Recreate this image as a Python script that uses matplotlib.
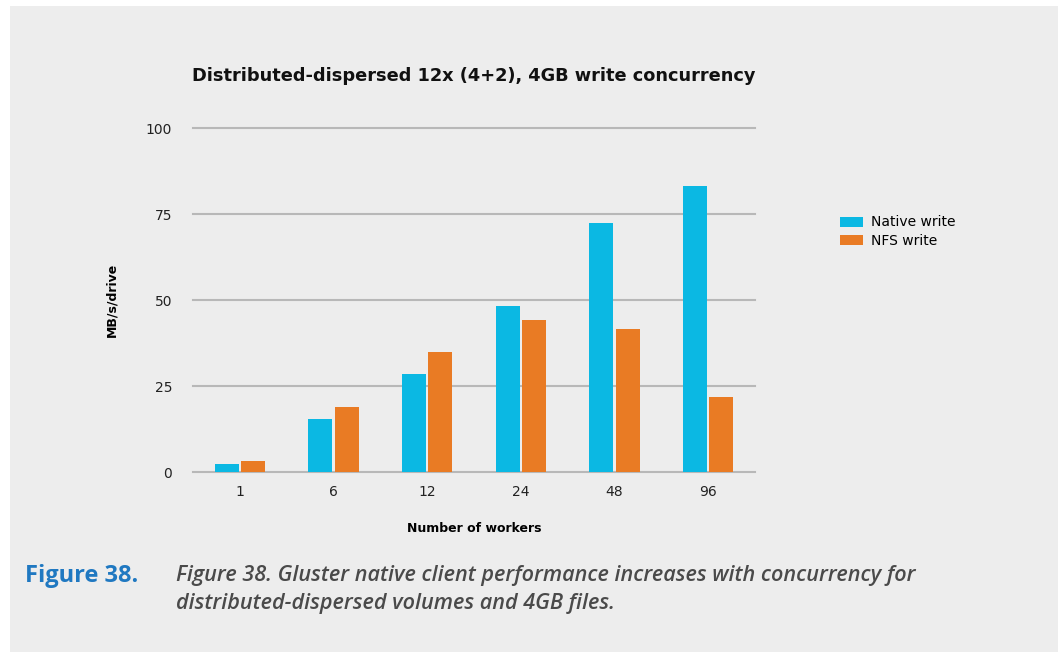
import matplotlib.pyplot as plt
import numpy as np
from matplotlib.patches import Rectangle

# data
workers = ['1', '6', '12', '24', '48', '96']
native_write = [2.2, 15.3, 28.4, 48.2, 72.3, 83.0]
nfs_write = [3.1, 18.8, 35.0, 44.3, 41.7, 21.7]
y_ticks = [0, 25, 50, 75, 100]

BLUE = '#0bb8e3'
ORANGE = '#e97b24'
PANEL = '#ededed'
GRID = '#b8b8b8'

fig = plt.figure(figsize=(10.58, 6.52), dpi=100, facecolor='white')
# gray panel behind everything, white strip on top and left
fig.patches.append(Rectangle((10 / 1058, 0), 1, 1 - 6 / 652, transform=fig.transFigure,
                             facecolor=PANEL, edgecolor='none', zorder=-10))

ax = fig.add_axes([193 / 1058, 1 - 472 / 652, 562 / 1058, 344 / 652])
ax.set_facecolor('none')

x = np.arange(len(workers))
w = 0.256
gap = 0.012
ax.bar(x - w / 2 - gap, native_write, w, color=BLUE, label='Native write', zorder=3)
ax.bar(x + w / 2 + gap, nfs_write, w, color=ORANGE, label='NFS write', zorder=3)

ax.set_xlim(-0.5, len(workers) - 0.5)
ax.set_ylim(0, 100)
ax.set_yticks(y_ticks)
ax.set_xticks(x)
ax.set_xticklabels(workers)
for y in y_ticks:
    ax.axhline(y, color=GRID, lw=1.5, zorder=1, clip_on=False)
for s in ax.spines.values():
    s.set_visible(False)
ax.tick_params(axis='both', length=0, labelsize=10, colors='#222222')
ax.tick_params(axis='y', pad=15)
ax.tick_params(axis='x', pad=9)

ax.set_ylabel('MB/s/drive', fontsize=9, fontweight='bold')
ax.set_xlabel('Number of workers', fontsize=9, fontweight='bold', labelpad=17)
ax.yaxis.set_label_coords(-(193 - 118) / 562, 0.5)

fig.text(474 / 1058, 1 - 76 / 652, 'Distributed-dispersed 12x (4+2), 4GB write concurrency',
         ha='center', va='center', fontsize=12.8, fontweight='bold', color='#111111')

ax.legend(loc='upper left', bbox_to_anchor=(827 / 1058, 1 - 203 / 652),
          bbox_transform=fig.transFigure, frameon=False, fontsize=10,
          handlelength=1.7, handleheight=0.7, handletextpad=0.6, labelspacing=0.3)

fig.text(25 / 1058, 1 - 576 / 652, 'Figure 38.', ha='left', va='center',
         fontsize=17, fontweight='bold', color='#1f78c1', family='Open Sans')
fig.text(176 / 1058, 1 - 576 / 652,
         'Figure 38. Gluster native client performance increases with concurrency for',
         ha='left', va='center', fontsize=15.6, style='italic', fontweight='semibold',
         color='#4a4a4a', family='Open Sans')
fig.text(176 / 1058, 1 - 604 / 652, 'distributed-dispersed volumes and 4GB files.',
         ha='left', va='center', fontsize=15.6, style='italic', fontweight='semibold',
         color='#4a4a4a', family='Open Sans')

fig.savefig('out.png', dpi=100, facecolor=fig.get_facecolor())
